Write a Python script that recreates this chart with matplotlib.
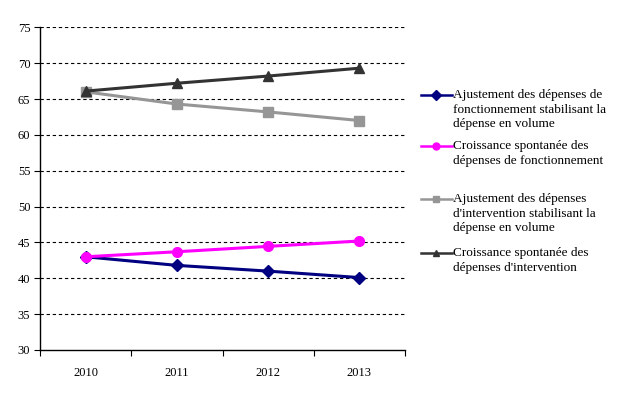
import matplotlib
matplotlib.use("Agg")
import matplotlib.pyplot as plt
from matplotlib.lines import Line2D
import numpy as np

plt.rcParams['font.family'] = ['Liberation Serif', 'DejaVu Serif']

# data
years = ['2010', '2011', '2012', '2013']
ajust_fonct = [43.0, 41.8, 41.0, 40.1]
crois_fonct = [43.0, 43.7, 44.45, 45.2]
ajust_interv = [66.0, 64.3, 63.2, 62.0]
crois_interv = [66.1, 67.2, 68.2, 69.3]

labels = ["Ajustement des dépenses de\nfonctionnement stabilisant la\ndépense en volume",
          "Croissance spontanée des\ndépenses de fonctionnement",
          "Ajustement des dépenses\nd'intervention stabilisant la\ndépense en volume",
          "Croissance spontanée des\ndépenses d'intervention"]

series = [ajust_fonct, crois_fonct, ajust_interv, crois_interv]
colors = ['#000080', '#FF00FF', '#969696', '#333333']
markers = ['D', 'o', 's', '^']
msizes = [6, 7, 7, 7]

fig = plt.figure(figsize=(6.18, 3.95), dpi=100)
ax = fig.add_axes([40/618, 1-350/395, 365/618, (350-27.3)/395])

x = np.arange(len(years)) + 0.5
for vals, c, m, ms in zip(series, colors, markers, msizes):
    ax.plot(x, vals, color=c, lw=2.2, marker=m, ms=ms, mec=c, mfc=c, clip_on=False)

ax.set_xlim(0, 4)
ax.set_ylim(30, 75)
ax.set_yticks(range(30, 80, 5))
ax.set_xticks(range(0, 5))
ax.set_xticklabels([])
ax.set_xticks(x, minor=True)
ax.set_xticklabels(years, minor=True)
ax.tick_params(axis='x', which='minor', length=0, pad=12, labelsize=9)
ax.tick_params(axis='x', which='major', length=4, direction='out')
ax.tick_params(axis='y', length=4, direction='out', labelsize=9, pad=3)
for yv in range(35, 80, 5):
    ax.axhline(yv, color='black', lw=0.8, ls=(0, (3, 2.5)), zorder=0)
ax.spines['top'].set_visible(False)
ax.spines['right'].set_visible(False)
ax.spines['left'].set_linewidth(1.0)
ax.spines['bottom'].set_linewidth(1.0)

# legend, drawn by hand to keep the uneven spacing
ys = [95, 146, 199, 253]
for lab, c, m, yp in zip(labels, colors, markers, ys):
    fy = 1 - yp/395
    fig.add_artist(Line2D([421/618, 452/618], [fy, fy], color=c, lw=1.8,
                          transform=fig.transFigure))
    fig.add_artist(Line2D([436/618], [fy], color=c, marker=m, ms=5, mfc=c, mec=c,
                          transform=fig.transFigure))
    fig.text(453/618, fy + 6/395, lab, fontsize=9.5, va='top', ha='left', linespacing=1.3)

fig.savefig('out.png', dpi=100)
